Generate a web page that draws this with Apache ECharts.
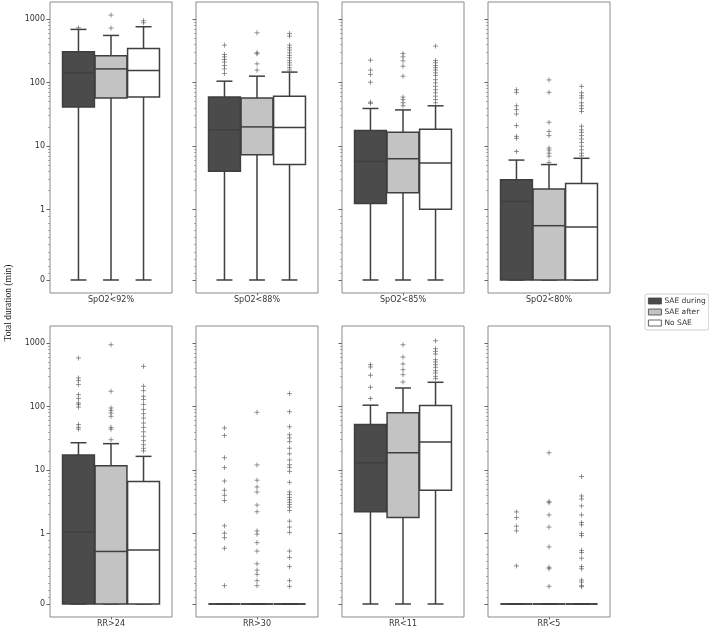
<!DOCTYPE html>
<html>
<head>
<meta charset="utf-8">
<script src="https://cdn.jsdelivr.net/npm/echarts@6/dist/echarts.min.js"></script>
<style>
  html, body { margin: 0; padding: 0; background: #fff; }
  #chart { width: 709px; height: 629px; }
</style>
</head>
<body>
<div id="chart"></div>
<script>
// panels, left to right, top row then bottom row
const categories = ['SpO2<92%', 'SpO2<88%', 'SpO2<85%', 'SpO2<80%', 'RR>24', 'RR>30', 'RR<11', 'RR<5'];
const groups = ['SAE during', 'SAE after', 'No SAE'];
const yTicks = [0, 1, 10, 100, 1000];

// box stats per panel: [whisker low, Q1, median, Q3, whisker high]
const boxDuring = [
  [0, 41, 142, 305, 687],
  [0, 4.0, 18, 59, 105],
  [0, 1.24, 5.7, 17.5, 39],
  [0, 0, 1.34, 2.94, 6.0],
  [0, 0, 1.06, 17.2, 26.9],
  [0, 0, 0, 0, 0],
  [0, 2.2, 13, 52, 105],
  [0, 0, 0, 0, 0]
];
const boxAfter = [
  [0, 57, 164, 264, 552],
  [0, 7.3, 20, 57, 126],
  [0, 1.83, 6.3, 16.4, 37],
  [0, 0, 0.77, 2.1, 5.1],
  [0, 0, 0.745, 11.7, 26],
  [0, 0, 0, 0, 0],
  [0, 1.78, 18.7, 80, 196],
  [0, 0, 0, 0, 0]
];
const boxNone = [
  [0, 59, 155, 344, 757],
  [0, 5.1, 19.5, 61, 146],
  [0, 1.01, 5.4, 18.3, 43],
  [0, 0, 0.75, 2.57, 6.4],
  [0, 0, 0.764, 6.6, 16.4],
  [0, 0, 0, 0, 0],
  [0, 4.8, 27.5, 104, 241],
  [0, 0, 0, 0, 0]
];

// outliers per panel
const outDuring = [
  [730],
  [388, 277, 254, 231, 210, 185, 164, 139],
  [225, 157, 134, 101, 49, 47],
  [77, 70, 43, 37.5, 32, 21, 14.2, 13.2, 8.2],
  [581, 282, 256, 222, 154, 134, 114, 108, 98, 52, 47, 44],
  [46, 35, 15.6, 10.9, 6.7, 4.8, 4.0, 3.3, 1.32, 1.01, 0.94, 0.79, 0.26],
  [457, 420, 311, 201, 134],
  [2.19, 1.78, 1.3, 1.1, 0.54]
];
const outAfter = [
  [1157, 721],
  [608, 294, 284, 197, 157],
  [287, 254, 220, 181, 126, 59, 54, 48, 43],
  [110, 70, 23.6, 17, 14.6, 9.3, 8.6, 7.7, 6.9, 5.5],
  [942, 174, 95, 87, 79, 70, 47, 44, 30],
  [81, 12, 6.9, 5.4, 4.5, 2.8, 2.2, 1.1, 0.99, 0.87, 0.75, 0.57, 0.48, 0.42, 0.33, 0.26],
  [942, 603, 468, 381, 318, 244],
  [18.7, 3.2, 3.05, 1.96, 1.26, 0.81, 0.52, 0.5, 0.25]
];
const outNone = [
  [941, 875],
  [594, 539, 388, 353, 324, 294, 267, 245, 222, 205, 188, 171, 157],
  [375, 222, 205, 185, 171, 157, 142, 129, 111, 99, 87, 77, 69, 61, 54, 48],
  [87, 69, 62, 57, 48, 43, 39, 35, 20.5, 18, 16.4, 14.6, 12.9, 11.4, 9.9, 8.7, 7.7, 7.0],
  [430, 209, 178, 145, 129, 108, 90, 77, 66, 55, 47, 40, 34, 29, 25, 22, 20],
  [160, 83, 48, 36, 32, 28, 22, 18, 14.4, 12.1, 11, 9.5, 6.4, 4.5, 4.1, 3.7, 3.4, 3.1, 2.85, 2.6, 2.3, 1.56, 1.26, 1.04, 0.75, 0.66, 0.53, 0.33, 0.25],
  [1088, 815, 740, 672, 547, 503, 457, 415, 367, 338, 299, 275],
  [7.9, 3.9, 3.5, 2.72, 1.96, 1.49, 1.37, 1.0, 0.97, 0.76, 0.73, 0.65, 0.53, 0.5, 0.34, 0.31, 0.26, 0.245]
];

const groupColors = ['#4b4b4b', '#c3c3c3', '#ffffff'];
const EDGE = '#3f3f3f';
const BOX_W = 0.8 / 3 * 0.98;
const offsets = [-0.8 / 3, 0, 0.8 / 3];

// symlog scale (linthresh 1, linscale 1), done by hand
const LIN = 1 / (1 - 0.1);
function symlog(v) {
  return v <= 1 ? v * LIN : LIN + Math.log10(v);
}
function label(t) {
  for (const v of yTicks) if (Math.abs(symlog(v) - t) < 1e-6) return String(v);
  return '';
}

const majorT = yTicks.map(symlog);
const minorT = [];
for (let i = 1; i < 10; i++) minorT.push(symlog(i / 10));
for (let d = 1; d <= 1000; d *= 10) {
  for (let m = 2; m < 10; m++) minorT.push(symlog(m * d));
}

const lefts = [50, 196, 342, 488];
const tops = [2, 326];
const Y_MIN = -0.205, Y_MAX = 4.38;

function renderBox(params, api) {
  const x = api.value(0);
  const half = api.size([BOX_W, 0])[0] / 2;
  const cap = half / 2;
  const ys = [1, 2, 3, 4, 5].map(d => api.coord([x, api.value(d)])[1]);
  const cx = api.coord([x, 0])[0];
  const ln = { stroke: EDGE, lineWidth: 1.5 };
  return {
    type: 'group',
    children: [
      { type: 'line', shape: { x1: cx, y1: ys[0], x2: cx, y2: ys[1] }, style: ln },
      { type: 'line', shape: { x1: cx, y1: ys[3], x2: cx, y2: ys[4] }, style: ln },
      { type: 'line', shape: { x1: cx - cap, y1: ys[0], x2: cx + cap, y2: ys[0] }, style: ln },
      { type: 'line', shape: { x1: cx - cap, y1: ys[4], x2: cx + cap, y2: ys[4] }, style: ln },
      { type: 'rect', shape: { x: cx - half, y: ys[3], width: 2 * half, height: ys[1] - ys[3] },
        style: { fill: api.visual('color'), stroke: EDGE, lineWidth: 1.5 } },
      { type: 'line', shape: { x1: cx - half, y1: ys[2], x2: cx + half, y2: ys[2] }, style: ln }
    ]
  };
}

const grids = [], xAxes = [], yAxes = [], series = [];
categories.forEach((cat, i) => {
  const row = Math.floor(i / 4), col = i % 4;
  grids.push({
    left: lefts[col], top: tops[row], width: 122, height: 291,
    show: true, borderColor: '#8a8a8a', borderWidth: 1, backgroundColor: '#fff'
  });
  xAxes.push({
    type: 'value', gridIndex: i, min: -0.5, max: 0.5, position: 'bottom',
    axisLine: { show: false, onZero: false }, splitLine: { show: false },
    axisTick: { customValues: [0], length: 2.5, lineStyle: { color: '#666' } },
    axisLabel: { customValues: [0], formatter: () => cat, fontSize: 8, color: '#333', margin: 3,
      fontFamily: 'DejaVu Sans' }
  });
  yAxes.push({
    type: 'value', gridIndex: i, min: Y_MIN, max: Y_MAX, position: 'left',
    axisLine: { show: false, onZero: false }, splitLine: { show: false },
    axisTick: { customValues: majorT, length: 3.5, lineStyle: { color: '#666' } },
    axisLabel: { show: col === 0, customValues: majorT, formatter: label, fontSize: 8, color: '#333',
      margin: 5, fontFamily: 'DejaVu Sans' }
  });
  yAxes.push({
    type: 'value', gridIndex: i, min: Y_MIN, max: Y_MAX, position: 'left', offset: 0,
    axisLine: { show: false, onZero: false }, splitLine: { show: false },
    axisTick: { customValues: minorT, length: 2, lineStyle: { color: '#888', width: 0.7 } },
    axisLabel: { show: false }
  });

  const boxes = [boxDuring[i], boxAfter[i], boxNone[i]];
  const outs = [outDuring[i], outAfter[i], outNone[i]];
  groups.forEach((g, k) => {
    series.push({
      name: g, type: 'custom', xAxisIndex: i, yAxisIndex: 2 * i,
      itemStyle: { color: groupColors[k], borderColor: EDGE, borderWidth: 1 },
      renderItem: renderBox,
      encode: { x: 0, y: [1, 2, 3, 4, 5] },
      data: [[offsets[k]].concat(boxes[k].map(symlog))],
      silent: true
    });
    series.push({
      type: 'scatter', xAxisIndex: i, yAxisIndex: 2 * i,
      symbol: 'path://M0 5L10 5M5 0L5 10', symbolSize: 5,
      itemStyle: { color: 'none', borderColor: '#5a5a5a', borderWidth: 0.8 },
      data: outs[k].map(v => [offsets[k], symlog(v)]),
      silent: true, z: 3
    });
  });
});

const chart = echarts.init(document.getElementById('chart'));
chart.setOption({
  animation: false,
  backgroundColor: '#fff',
  grid: grids,
  xAxis: xAxes,
  yAxis: yAxes,
  series: series,
  legend: {
    data: groups.map((g, k) => ({
      name: g, icon: 'rect',
      itemStyle: { color: groupColors[k], borderColor: EDGE, borderWidth: 0.8 }
    })),
    orient: 'vertical', left: 645, top: 294,
    itemWidth: 13, itemHeight: 6, itemGap: 3,
    padding: [3, 3, 3, 3],
    borderColor: '#d0d0d0', borderWidth: 1, borderRadius: 2,
    textStyle: { fontSize: 7.5, color: '#333', fontFamily: 'DejaVu Sans', padding: [0, 0, 0, -2] },
    selectedMode: false
  },
  graphic: [{
    type: 'text', x: 3, y: 303, rotation: Math.PI / 2,
    style: { text: 'Total duration (min)', font: '9.5px "Liberation Serif"', fill: '#111',
      align: 'center', verticalAlign: 'top' }
  }]
});
</script>
</body>
</html>
